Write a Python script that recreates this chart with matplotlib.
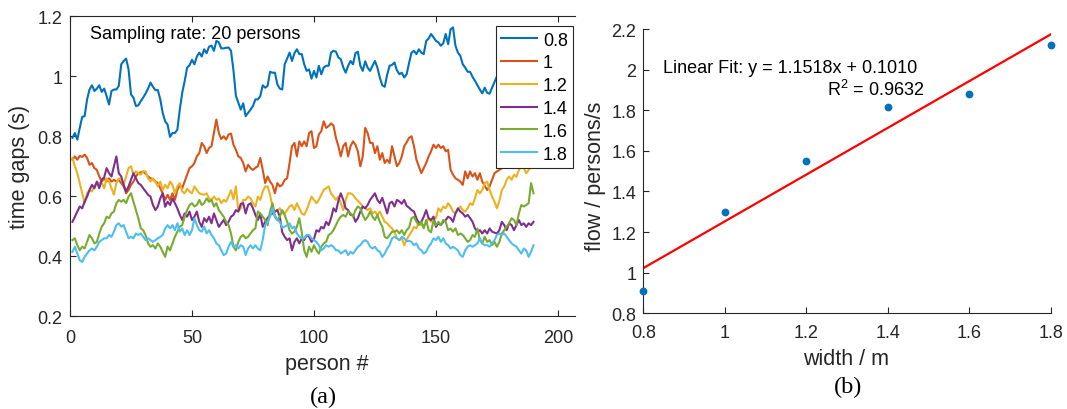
import numpy as np
import matplotlib
matplotlib.use('Agg')
import matplotlib.pyplot as plt

plt.rcParams['font.family'] = ['Liberation Sans', 'DejaVu Sans']
plt.rcParams['mathtext.fontset'] = 'custom'
plt.rcParams['mathtext.rm'] = 'Liberation Sans'
plt.rcParams['mathtext.it'] = 'Liberation Sans:italic'

# ---------------- data: panel (a) ----------------
persons = np.arange(1, 191)
width_labels = ['0.8', '1', '1.2', '1.4', '1.6', '1.8']

gap_w08 = [
    0.795, 0.811, 0.789, 0.828, 0.865, 0.867, 0.923, 0.956, 0.970, 0.951,
    0.959, 0.970, 0.948, 0.959, 0.934, 0.906, 0.951, 0.956, 0.956, 0.968,
    1.040, 1.051, 1.059, 1.023, 0.940, 0.929, 0.901, 0.903, 0.917, 0.929,
    0.943, 0.959, 0.979, 0.965, 0.954, 0.954, 0.923, 0.878, 0.850, 0.839,
    0.798, 0.811, 0.811, 0.822, 0.889, 0.945, 0.984, 1.029, 1.037, 1.055,
    1.040, 1.066, 1.079, 1.066, 1.090, 1.077, 1.099, 1.102, 1.085, 1.118,
    1.113, 1.093, 1.093, 1.095, 1.096, 1.085, 1.020, 0.935, 0.912, 0.889,
    0.910, 0.867, 0.878, 0.889, 0.901, 0.923, 0.923, 0.934, 0.970, 0.962,
    0.968, 1.015, 1.012, 1.012, 0.973, 0.959, 0.956, 1.040, 1.059, 1.079,
    1.051, 1.077, 1.090, 1.074, 1.074, 1.040, 1.018, 1.023, 0.992, 1.018,
    0.996, 1.035, 1.007, 1.029, 1.035, 1.035, 1.079, 1.085, 1.082, 1.063,
    1.057, 1.030, 1.012, 1.035, 1.051, 1.040, 1.077, 1.082, 1.035, 1.018,
    1.050, 1.029, 1.018, 1.035, 1.051, 1.029, 0.996, 0.970, 0.965, 1.005,
    1.035, 1.038, 1.046, 1.020, 1.007, 1.012, 0.996, 1.007, 1.045, 1.079,
    1.085, 1.074, 1.090, 1.079, 1.074, 1.118, 1.126, 1.141, 1.130, 1.118,
    1.113, 1.102, 1.110, 1.141, 1.107, 1.157, 1.163, 1.102, 1.079, 1.068,
    1.040, 1.029, 1.015, 1.015, 0.998, 0.985, 0.970, 0.956, 0.943, 0.962,
    0.945, 0.942, 0.962, 0.981, 1.000, 0.990, 1.010, 0.980, 1.000, 1.020,
    0.990, 1.000, 1.010, 0.980, 1.000, 0.990, 1.010, 1.000, 0.980, 1.000,
]
gap_w10 = [
    0.722, 0.733, 0.722, 0.735, 0.731, 0.739, 0.728, 0.705, 0.711, 0.694,
    0.688, 0.666, 0.649, 0.660, 0.649, 0.660, 0.649, 0.655, 0.649, 0.655,
    0.644, 0.633, 0.610, 0.621, 0.638, 0.649, 0.666, 0.677, 0.680, 0.683,
    0.675, 0.666, 0.660, 0.657, 0.649, 0.644, 0.627, 0.610, 0.588, 0.605,
    0.588, 0.610, 0.588, 0.621, 0.638, 0.627, 0.649, 0.672, 0.694, 0.700,
    0.711, 0.733, 0.744, 0.778, 0.767, 0.744, 0.761, 0.767, 0.811, 0.856,
    0.811, 0.791, 0.800, 0.789, 0.806, 0.809, 0.772, 0.755, 0.733, 0.728,
    0.711, 0.683, 0.705, 0.694, 0.688, 0.695, 0.700, 0.728, 0.688, 0.644,
    0.666, 0.649, 0.638, 0.610, 0.644, 0.633, 0.638, 0.655, 0.660, 0.711,
    0.767, 0.778, 0.733, 0.783, 0.767, 0.783, 0.767, 0.811, 0.817, 0.761,
    0.767, 0.806, 0.817, 0.850, 0.828, 0.834, 0.843, 0.836, 0.795, 0.767,
    0.733, 0.767, 0.778, 0.733, 0.767, 0.783, 0.772, 0.750, 0.700, 0.733,
    0.828, 0.811, 0.778, 0.778, 0.744, 0.767, 0.722, 0.744, 0.711, 0.722,
    0.711, 0.767, 0.733, 0.700, 0.711, 0.733, 0.767, 0.780, 0.795, 0.800,
    0.767, 0.722, 0.700, 0.677, 0.694, 0.711, 0.733, 0.750, 0.772, 0.761,
    0.772, 0.761, 0.767, 0.750, 0.755, 0.688, 0.672, 0.660, 0.655, 0.649,
    0.638, 0.683, 0.660, 0.683, 0.666, 0.677, 0.655, 0.677, 0.649, 0.635,
    0.621, 0.633, 0.655, 0.677, 0.683, 0.688, 0.694, 0.700, 0.710, 0.720,
    0.715, 0.730, 0.720, 0.740, 0.730, 0.720, 0.740, 0.730, 0.750, 0.740,
]
gap_w12 = [
    0.728, 0.700, 0.677, 0.644, 0.610, 0.577, 0.610, 0.621, 0.616, 0.633,
    0.644, 0.645, 0.644, 0.627, 0.660, 0.649, 0.627, 0.605, 0.644, 0.660,
    0.655, 0.638, 0.666, 0.694, 0.700, 0.672, 0.683, 0.677, 0.672, 0.683,
    0.683, 0.660, 0.649, 0.660, 0.649, 0.633, 0.649, 0.621, 0.638, 0.627,
    0.649, 0.638, 0.610, 0.633, 0.644, 0.616, 0.610, 0.625, 0.616, 0.610,
    0.633, 0.621, 0.610, 0.607, 0.605, 0.610, 0.593, 0.588, 0.599, 0.588,
    0.593, 0.577, 0.588, 0.582, 0.600, 0.620, 0.590, 0.633, 0.550, 0.560,
    0.588, 0.588, 0.599, 0.593, 0.577, 0.566, 0.599, 0.588, 0.616, 0.633,
    0.633, 0.605, 0.565, 0.549, 0.554, 0.560, 0.543, 0.543, 0.554, 0.566,
    0.571, 0.554, 0.577, 0.560, 0.543, 0.538, 0.554, 0.577, 0.599, 0.588,
    0.577, 0.588, 0.605, 0.621, 0.627, 0.633, 0.610, 0.599, 0.588, 0.599,
    0.577, 0.554, 0.588, 0.610, 0.610, 0.605, 0.593, 0.585, 0.577, 0.565,
    0.560, 0.554, 0.560, 0.543, 0.549, 0.538, 0.549, 0.532, 0.515, 0.510,
    0.500, 0.493, 0.482, 0.460, 0.454, 0.460, 0.437, 0.455, 0.470, 0.482,
    0.498, 0.493, 0.515, 0.504, 0.504, 0.510, 0.527, 0.515, 0.532, 0.527,
    0.560, 0.549, 0.566, 0.560, 0.577, 0.566, 0.549, 0.543, 0.554, 0.566,
    0.554, 0.549, 0.560, 0.577, 0.571, 0.593, 0.621, 0.610, 0.621, 0.644,
    0.649, 0.621, 0.599, 0.582, 0.560, 0.585, 0.621, 0.633, 0.655, 0.666,
    0.655, 0.672, 0.665, 0.688, 0.700, 0.694, 0.677, 0.688, 0.700, 0.711,
]
gap_w14 = [
    0.515, 0.532, 0.549, 0.566, 0.560, 0.582, 0.599, 0.621, 0.638, 0.627,
    0.649, 0.627, 0.655, 0.663, 0.694, 0.677, 0.666, 0.700, 0.733, 0.677,
    0.666, 0.638, 0.616, 0.633, 0.655, 0.677, 0.660, 0.644, 0.638, 0.627,
    0.616, 0.605, 0.599, 0.571, 0.554, 0.566, 0.593, 0.610, 0.565, 0.582,
    0.571, 0.593, 0.577, 0.560, 0.538, 0.521, 0.543, 0.532, 0.549, 0.521,
    0.532, 0.549, 0.515, 0.498, 0.527, 0.515, 0.532, 0.510, 0.543, 0.521,
    0.498, 0.510, 0.521, 0.504, 0.515, 0.532, 0.538, 0.554, 0.549, 0.575,
    0.577, 0.543, 0.571, 0.577, 0.560, 0.538, 0.521, 0.540, 0.498, 0.515,
    0.527, 0.538, 0.543, 0.549, 0.554, 0.532, 0.480, 0.465, 0.454, 0.460,
    0.420, 0.448, 0.460, 0.443, 0.460, 0.454, 0.471, 0.465, 0.448, 0.457,
    0.487, 0.482, 0.498, 0.493, 0.515, 0.504, 0.527, 0.560, 0.549, 0.585,
    0.610, 0.588, 0.560, 0.554, 0.538, 0.538, 0.515, 0.527, 0.549, 0.566,
    0.560, 0.571, 0.588, 0.599, 0.610, 0.588, 0.577, 0.595, 0.570, 0.543,
    0.577, 0.582, 0.566, 0.588, 0.583, 0.575, 0.588, 0.568, 0.562, 0.554,
    0.549, 0.527, 0.510, 0.515, 0.532, 0.554, 0.527, 0.521, 0.532, 0.498,
    0.510, 0.504, 0.515, 0.521, 0.532, 0.527, 0.515, 0.543, 0.560, 0.549,
    0.543, 0.532, 0.538, 0.527, 0.515, 0.493, 0.482, 0.487, 0.476, 0.487,
    0.476, 0.493, 0.482, 0.479, 0.476, 0.487, 0.515, 0.504, 0.487, 0.510,
    0.504, 0.487, 0.504, 0.521, 0.504, 0.510, 0.498, 0.510, 0.504, 0.515,
]
gap_w16 = [
    0.454, 0.460, 0.437, 0.420, 0.432, 0.426, 0.448, 0.471, 0.460, 0.443,
    0.448, 0.476, 0.499, 0.510, 0.532, 0.527, 0.543, 0.549, 0.577, 0.588,
    0.582, 0.588, 0.577, 0.599, 0.610, 0.582, 0.554, 0.527, 0.493, 0.487,
    0.470, 0.443, 0.432, 0.437, 0.426, 0.443, 0.432, 0.415, 0.398, 0.432,
    0.420, 0.443, 0.465, 0.482, 0.499, 0.504, 0.532, 0.554, 0.571, 0.577,
    0.566, 0.571, 0.588, 0.571, 0.577, 0.593, 0.582, 0.588, 0.566, 0.577,
    0.554, 0.543, 0.532, 0.515, 0.504, 0.476, 0.432, 0.420, 0.448, 0.465,
    0.471, 0.460, 0.465, 0.476, 0.487, 0.493, 0.549, 0.543, 0.532, 0.521,
    0.504, 0.549, 0.577, 0.535, 0.521, 0.532, 0.554, 0.538, 0.515, 0.487,
    0.476, 0.482, 0.499, 0.527, 0.480, 0.420, 0.398, 0.432, 0.415, 0.437,
    0.420, 0.409, 0.432, 0.443, 0.448, 0.471, 0.476, 0.487, 0.504, 0.521,
    0.532, 0.538, 0.532, 0.549, 0.543, 0.532, 0.554, 0.566, 0.560, 0.538,
    0.521, 0.532, 0.549, 0.532, 0.521, 0.538, 0.515, 0.499, 0.465, 0.460,
    0.471, 0.482, 0.482, 0.487, 0.476, 0.487, 0.471, 0.487, 0.496, 0.527,
    0.532, 0.515, 0.504, 0.515, 0.493, 0.521, 0.487, 0.480, 0.520, 0.504,
    0.515, 0.504, 0.521, 0.515, 0.487, 0.493, 0.482, 0.493, 0.471, 0.476,
    0.471, 0.460, 0.448, 0.454, 0.471, 0.465, 0.493, 0.454, 0.443, 0.465,
    0.448, 0.454, 0.437, 0.448, 0.432, 0.448, 0.476, 0.487, 0.499, 0.510,
    0.527, 0.521, 0.504, 0.543, 0.571, 0.566, 0.571, 0.577, 0.644, 0.610,
]
gap_w18 = [
    0.415, 0.432, 0.409, 0.387, 0.381, 0.398, 0.409, 0.420, 0.426, 0.420,
    0.432, 0.448, 0.454, 0.460, 0.460, 0.471, 0.465, 0.482, 0.504, 0.510,
    0.499, 0.504, 0.482, 0.460, 0.465, 0.460, 0.476, 0.471, 0.476, 0.465,
    0.454, 0.460, 0.454, 0.448, 0.454, 0.460, 0.465, 0.471, 0.493, 0.504,
    0.493, 0.504, 0.487, 0.510, 0.482, 0.493, 0.471, 0.487, 0.471, 0.487,
    0.527, 0.504, 0.487, 0.482, 0.499, 0.476, 0.487, 0.471, 0.460, 0.443,
    0.437, 0.420, 0.404, 0.409, 0.432, 0.448, 0.432, 0.437, 0.426, 0.437,
    0.432, 0.404, 0.426, 0.437, 0.426, 0.437, 0.426, 0.420, 0.455, 0.504,
    0.515, 0.532, 0.560, 0.530, 0.521, 0.515, 0.495, 0.499, 0.504, 0.510,
    0.493, 0.499, 0.476, 0.465, 0.460, 0.460, 0.471, 0.471, 0.460, 0.454,
    0.448, 0.437, 0.420, 0.426, 0.437, 0.432, 0.437, 0.432, 0.420, 0.420,
    0.409, 0.415, 0.420, 0.404, 0.415, 0.409, 0.420, 0.432, 0.437, 0.448,
    0.454, 0.448, 0.432, 0.426, 0.432, 0.420, 0.415, 0.398, 0.409, 0.426,
    0.437, 0.460, 0.465, 0.460, 0.454, 0.465, 0.460, 0.450, 0.452, 0.448,
    0.437, 0.443, 0.426, 0.420, 0.409, 0.415, 0.432, 0.443, 0.460, 0.454,
    0.465, 0.448, 0.460, 0.443, 0.437, 0.426, 0.432, 0.426, 0.420, 0.404,
    0.398, 0.420, 0.432, 0.437, 0.432, 0.437, 0.443, 0.460, 0.443, 0.437,
    0.437, 0.432, 0.443, 0.454, 0.471, 0.476, 0.471, 0.476, 0.465, 0.454,
    0.443, 0.437, 0.432, 0.420, 0.409, 0.426, 0.420, 0.398, 0.415, 0.437,
]
series_colors = ['#0072BD', '#D95319', '#EDB120', '#7E2F8E', '#77AC30', '#4DBEEE']

x_ticks_a = [0, 50, 100, 150, 200]
y_ticks_a = [0.2, 0.4, 0.6, 0.8, 1.0, 1.2]
y_ticklabels_a = ['0.2', '0.4', '0.6', '0.8', '1', '1.2']

# ---------------- data: panel (b) ----------------
width_m = [0.8, 1.0, 1.2, 1.4, 1.6, 1.8]
flow = [0.911, 1.300, 1.550, 1.814, 1.881, 2.123]
fit_slope = 1.1518
fit_intercept = 0.1010
fit_r2 = 0.9632
x_ticks_b = [0.8, 1.0, 1.2, 1.4, 1.6, 1.8]
x_ticklabels_b = ['0.8', '1', '1.2', '1.4', '1.6', '1.8']
y_ticks_b = [0.8, 1.0, 1.2, 1.4, 1.6, 1.8, 2.0, 2.2]
y_ticklabels_b = ['0.8', '1', '1.2', '1.4', '1.6', '1.8', '2', '2.2']

# ---------------- figure ----------------
W, H = 1067, 410
fig = plt.figure(figsize=(W / 100, H / 100), dpi=100)
axc = '#262626'
fs_tick = 13
fs_lab = 15.5

def px_rect(x0, y_top, x1, y_bot):
    return [x0 / W, (H - y_bot) / H, (x1 - x0) / W, (y_bot - y_top) / H]

# panel (a)
ax1 = fig.add_axes(px_rect(70, 17.3, 575, 317.3))
all_series = [gap_w08, gap_w10, gap_w12, gap_w14, gap_w16, gap_w18]
for vals, lab, col in zip(all_series, width_labels, series_colors):
    ax1.plot(persons, vals, color=col, lw=1.5, label=lab)
ax1.set_xlim(0, 207)
ax1.set_ylim(0.2, 1.2)
ax1.set_xticks(x_ticks_a)
ax1.set_xticklabels([str(t) for t in x_ticks_a])
ax1.set_yticks(y_ticks_a)
ax1.set_yticklabels(y_ticklabels_a)
ax1.spines['right'].set_visible(False)
for s in ['left', 'bottom', 'top']:
    ax1.spines[s].set_color(axc)
    ax1.spines[s].set_linewidth(0.8)
ax1.tick_params(axis='both', direction='in', length=4, width=0.8, color=axc,
                labelcolor=axc, labelsize=fs_tick)
ax1.tick_params(axis='x', top=True, pad=9.5)
ax1.tick_params(axis='y', right=False, pad=5.5)
ax1.text(8.2, 1.1263, 'Sampling rate: 20 persons', fontsize=13, color='black',
         va='baseline', ha='left')
leg = ax1.legend(loc='upper right', bbox_to_anchor=(0.9966, 0.9667),
                 borderaxespad=0, fontsize=13, frameon=True, fancybox=False,
                 framealpha=1, edgecolor='#262626', handlelength=2.0,
                 handletextpad=0.3, labelspacing=0.32, borderpad=0.3)
leg.get_frame().set_linewidth(0.8)

# panel (b)
ax2 = fig.add_axes(px_rect(643.3, 30, 1051, 314.3))
xs_fit = np.array([x_ticks_b[0], x_ticks_b[-1]])
ax2.plot(xs_fit, fit_slope * xs_fit + fit_intercept, color='#FF0000', lw=1.6, zorder=2)
ax2.plot(width_m, flow, 'o', color='#0072BD', ms=4.6, clip_on=False, zorder=3)
ax2.set_xlim(0.8, 1.8)
ax2.set_ylim(0.8, 2.2)
ax2.set_xticks(x_ticks_b)
ax2.set_xticklabels(x_ticklabels_b)
ax2.set_yticks(y_ticks_b)
ax2.set_yticklabels(y_ticklabels_b)
ax2.spines['right'].set_visible(False)
ax2.spines['top'].set_visible(False)
for s in ['left', 'bottom']:
    ax2.spines[s].set_color(axc)
    ax2.spines[s].set_linewidth(0.8)
ax2.tick_params(axis='both', direction='in', length=4, width=0.8, color=axc,
                labelcolor=axc, labelsize=fs_tick)
ax2.tick_params(axis='x', pad=8)
ax2.tick_params(axis='y', pad=5)
ax2.text(0.8476, 1.9866, 'Linear Fit: y = %.4fx + %.4f' % (fit_slope, fit_intercept),
         fontsize=13, color='black', va='baseline', ha='left')
ax2.text(1.2498, 1.8748, 'R$^2$ = %.4f' % fit_r2, fontsize=13, color='black',
         va='baseline', ha='left')

# labels (positions in pixels of the figure)
def fx(px):
    return px / W

def fy(py):
    return (H - py) / H

fig.text(fx(20), fy(166.7), 'time gaps (s)', rotation=90, ha='center', va='center',
         fontsize=fs_lab, color=axc)
fig.text(fx(326.7), fy(370), 'person #', ha='center', va='baseline',
         fontsize=fs_lab, color=axc)
fig.text(fx(323.3), fy(403), '(a)', ha='center', va='baseline', fontsize=17.5,
         family=['Liberation Serif', 'DejaVu Serif'], color='black')
fig.text(fx(595), fy(176), 'flow / persons/s', rotation=90, ha='center', va='center',
         fontsize=fs_lab, color=axc)
fig.text(fx(846.5), fy(365), 'width / m', ha='center', va='baseline',
         fontsize=fs_lab, color=axc)
fig.text(fx(847.8), fy(393.3), '(b)', ha='center', va='baseline', fontsize=17.5,
         family=['Liberation Serif', 'DejaVu Serif'], color='black')

fig.savefig('out.png', dpi=100)
